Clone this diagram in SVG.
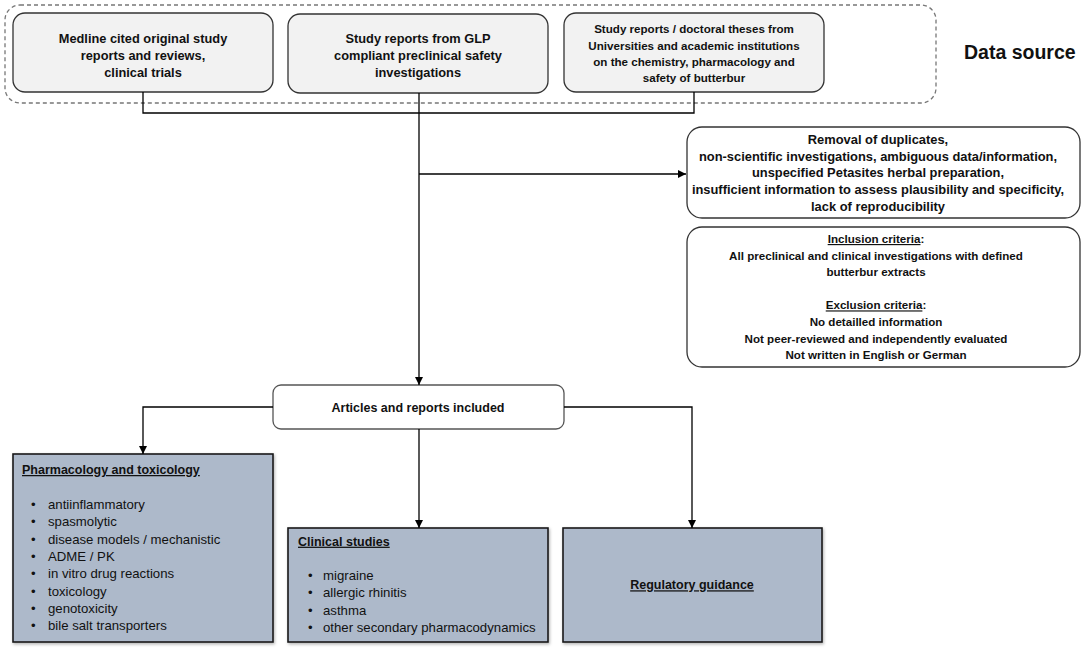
<svg xmlns="http://www.w3.org/2000/svg" width="1084" height="651" viewBox="0 0 1084 651">
<style>
text{font-family:"Liberation Sans",Arial,sans-serif;fill:#111}
.b{font-weight:bold}
.src{fill:#f2f2f2;stroke:#333;stroke-width:1.3}
.wb{fill:#fff;stroke:#333;stroke-width:1.3}
.cat{fill:#adb9ca;stroke:#1a1a1a;stroke-width:1.6}
.ln{fill:none;stroke:#000;stroke-width:1.3}
.u{text-decoration:underline}
.it{font-size:13.2px}
</style>
<defs>
<marker id="ar" markerUnits="userSpaceOnUse" markerWidth="9" markerHeight="9" refX="8" refY="4" orient="auto" viewBox="0 0 9 8">
<path d="M0,0 L8,4 L0,8 z" fill="#000"/>
</marker>
<filter id="sh" x="-5%" y="-5%" width="110%" height="115%">
<feDropShadow dx="1" dy="1.5" stdDeviation="1.5" flood-color="#000" flood-opacity="0.3"/>
</filter>
</defs>

<g id="datasource">
<rect x="5" y="5" width="931" height="98" rx="15" fill="none" stroke="#777" stroke-width="1.3" stroke-dasharray="4,3"/>
<text class="b" x="964" y="59" font-size="19.5">Data source</text>
</g>

<g id="src1">
<rect class="src" x="13" y="13" width="260" height="79" rx="12"/>
<text class="b" font-size="12.8" text-anchor="middle"><tspan x="143" y="42.5">Medline cited original study</tspan><tspan x="143" y="60">reports and reviews,</tspan><tspan x="143" y="77.3">clinical trials</tspan></text>
</g>

<g id="src2">
<rect class="src" x="288" y="14" width="260" height="79" rx="12"/>
<text class="b" font-size="12.8" text-anchor="middle"><tspan x="418" y="42.5">Study reports from GLP</tspan><tspan x="418" y="60">compliant preclinical safety</tspan><tspan x="418" y="77.3">investigations</tspan></text>
</g>

<g id="src3">
<rect class="src" x="564" y="13" width="260" height="79" rx="12"/>
<text class="b" font-size="11.6" text-anchor="middle"><tspan x="694" y="33.3">Study reports / doctoral theses from</tspan><tspan x="694" y="49.6">Universities and academic institutions</tspan><tspan x="694" y="65.9">on the chemistry, pharmacology and</tspan><tspan x="694" y="82.2">safety of butterbur</tspan></text>
</g>

<g id="removal">
<rect class="wb" x="687" y="127" width="393" height="91" rx="15"/>
<text class="b" font-size="12.9" text-anchor="middle"><tspan x="878" y="144">Removal of duplicates,</tspan><tspan x="878" y="160.7">non-scientific investigations, ambiguous data/information,</tspan><tspan x="878" y="177.4">unspecified Petasites herbal preparation,</tspan><tspan x="878" y="194.1">insufficient information to assess plausibility and specificity,</tspan><tspan x="878" y="210.8">lack of reproducibility</tspan></text>
</g>

<g id="criteria">
<rect class="wb" x="687" y="227" width="393" height="140" rx="15"/>
<text class="b" font-size="11.6" text-anchor="middle"><tspan x="876" y="243"><tspan class="u">Inclusion criteria</tspan>:</tspan><tspan x="876" y="259.6">All preclinical and clinical investigations with defined</tspan><tspan x="876" y="276.2">butterbur extracts</tspan><tspan x="876" y="309.4"><tspan class="u">Exclusion criteria</tspan>:</tspan><tspan x="876" y="326">No detailled information</tspan><tspan x="876" y="342.6">Not peer-reviewed and independently evaluated</tspan><tspan x="876" y="359.2">Not written in English or German</tspan></text>
</g>

<g id="articles">
<rect x="273" y="385" width="291" height="44" rx="8" fill="#fff" stroke="#555" stroke-width="1.3"/>
<text class="b" x="418" y="411.5" font-size="12.5" text-anchor="middle">Articles and reports included</text>
</g>

<g id="pharmtox">
<rect class="cat" x="13" y="454" width="260" height="188" filter="url(#sh)"/>
<text class="b u" x="22" y="474" font-size="12.5">Pharmacology and toxicology</text>
<g class="it">
<text x="31" y="509">•</text><text x="48" y="509">antiinflammatory</text>
<text x="31" y="526.3">•</text><text x="48" y="526.3">spasmolytic</text>
<text x="31" y="543.6">•</text><text x="48" y="543.6">disease models / mechanistic</text>
<text x="31" y="560.9">•</text><text x="48" y="560.9">ADME / PK</text>
<text x="31" y="578.2">•</text><text x="48" y="578.2">in vitro drug reactions</text>
<text x="31" y="595.5">•</text><text x="48" y="595.5">toxicology</text>
<text x="31" y="612.8">•</text><text x="48" y="612.8">genotoxicity</text>
<text x="31" y="630.1">•</text><text x="48" y="630.1">bile salt transporters</text>
</g>
</g>

<g id="clinical">
<rect class="cat" x="288" y="528" width="260" height="114" filter="url(#sh)"/>
<text class="b u" x="298" y="545.7" font-size="12.5">Clinical studies</text>
<g class="it">
<text x="308" y="580">•</text><text x="323" y="580">migraine</text>
<text x="308" y="597.3">•</text><text x="323" y="597.3">allergic rhinitis</text>
<text x="308" y="614.6">•</text><text x="323" y="614.6">asthma</text>
<text x="308" y="631.9">•</text><text x="323" y="631.9">other secondary pharmacodynamics</text>
</g>
</g>

<g id="regulatory">
<rect class="cat" x="563" y="528" width="259" height="114" filter="url(#sh)"/>
<text class="b u" x="692" y="589.3" font-size="12.5" text-anchor="middle">Regulatory guidance</text>
</g>

<g id="connectors">
<polyline class="ln" points="143,92 143,113 694,113 694,92"/>
<line class="ln" x1="419" y1="93" x2="419" y2="385" marker-end="url(#ar)"/>
<line class="ln" x1="419" y1="174" x2="686" y2="174" marker-end="url(#ar)"/>
<polyline class="ln" points="273,407 143,407 143,454" marker-end="url(#ar)"/>
<line class="ln" x1="419" y1="429" x2="419" y2="528" marker-end="url(#ar)"/>
<polyline class="ln" points="564,407 692,407 692,528" marker-end="url(#ar)"/>
</g>
</svg>
